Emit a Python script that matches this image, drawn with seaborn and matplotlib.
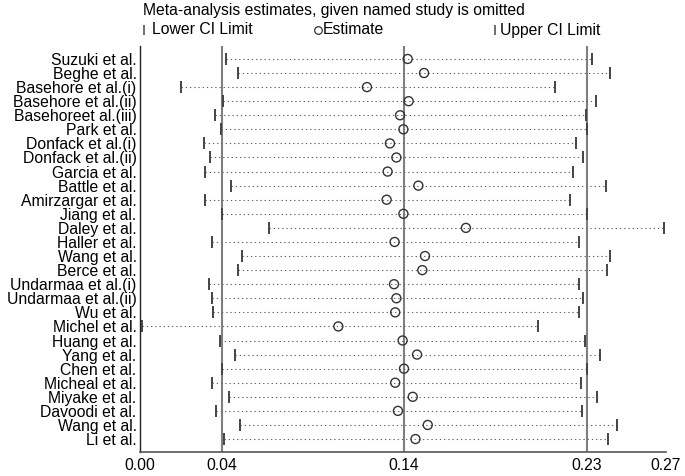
import matplotlib
matplotlib.use("Agg")
import matplotlib.pyplot as plt
import seaborn as sns
import pandas as pd
import numpy as np

studies = ["Suzuki et al.", "Beghe et al.", "Basehore et al.(i)", "Basehore et al.(ii)",
           "Basehoreet al.(iii)", "Park et al.", "Donfack et al.(i)", "Donfack et al.(ii)",
           "Garcia et al.", "Battle et al.", "Amirzargar et al.", "Jiang et al.",
           "Daley et al.", "Haller et al.", "Wang et al.", "Berce et al.",
           "Undarmaa et al.(i)", "Undarmaa et al.(ii)", "Wu et al.", "Michel et al.",
           "Huang et al.", "Yang et al.", "Chen et al.", "Micheal et al.",
           "Miyake et al.", "Davoodi et al.", "Wang et al.", "Li et al."]
estimate = [0.1374, 0.1458, 0.1165, 0.1379, 0.1335, 0.1352, 0.1283, 0.1316,
            0.1271, 0.1429, 0.1266, 0.1352, 0.1673, 0.1307, 0.1463, 0.1449,
            0.1304, 0.1316, 0.1310, 0.1018, 0.1348, 0.1422, 0.1355, 0.1310,
            0.1400, 0.1324, 0.1477, 0.1414]
lower = [0.0440, 0.0503, 0.0209, 0.0426, 0.0387, 0.0416, 0.0327, 0.0358,
         0.0332, 0.0469, 0.0332, 0.0421, 0.0662, 0.0368, 0.0522, 0.0503,
         0.0354, 0.0368, 0.0376, 0.0010, 0.0411, 0.0486, 0.0421, 0.0368,
         0.0455, 0.0389, 0.0512, 0.0433]
upper = [0.2320, 0.2411, 0.2129, 0.2342, 0.2289, 0.2296, 0.2236, 0.2275,
         0.2221, 0.2391, 0.2209, 0.2295, 0.2690, 0.2253, 0.2411, 0.2399,
         0.2253, 0.2274, 0.2253, 0.2041, 0.2286, 0.2363, 0.2296, 0.2262,
         0.2346, 0.2270, 0.2447, 0.2400]
tick_values = [0.0, 0.0419, 0.1355, 0.2294, 0.27]
tick_labels = ["0.00", "0.04", "0.14", "0.23", "0.27"]
ref_lines = [0.0419, 0.1355, 0.2294]

df = pd.DataFrame({"study": studies, "estimate": estimate,
                   "lower": lower, "upper": upper})
df["row"] = np.arange(len(df))

sns.set_style("white")
plt.rcParams["font.family"] = ["Liberation Sans", "DejaVu Sans"]
plt.rcParams["text.color"] = "black"
plt.rcParams["xtick.labelcolor"] = "black"
plt.rcParams["ytick.labelcolor"] = "black"
FS = 11.3

fig = plt.figure(figsize=(6.85, 4.76), dpi=100)
ax = fig.add_axes([140 / 685, 24 / 476, 526 / 685, 406 / 476])

for v in ref_lines:
    ax.axvline(v, color="#7f7f7f", lw=1.5, zorder=1)

ax.hlines(df["row"], df["lower"], df["upper"], colors="#666666",
          linestyles=(0, (1.2, 2.6)), lw=0.8, zorder=2)

sns.scatterplot(data=df, x="lower", y="row", marker="|", s=64, color="#444444",
                linewidth=1.4, ax=ax, zorder=3, clip_on=False)
sns.scatterplot(data=df, x="upper", y="row", marker="|", s=64, color="#444444",
                linewidth=1.4, ax=ax, zorder=3, clip_on=False)
sns.scatterplot(data=df, x="estimate", y="row", marker="o", s=42,
                facecolors="none", edgecolor="#333333", linewidth=1.0,
                ax=ax, zorder=4, clip_on=False)

ax.set_xlim(0, 0.27)
ax.set_ylim(27.92, -0.92)
ax.set_xticks(tick_values)
ax.set_xticklabels(tick_labels, fontsize=FS, color="black")
ax.set_yticks(df["row"])
ax.set_yticklabels(df["study"], fontsize=FS, color="black")
ax.tick_params(axis="y", length=0, pad=2.5)
ax.tick_params(axis="x", length=4, width=1, color="#555555", pad=0.5, direction="out")
ax.set_xlabel("")
ax.set_ylabel("")
for s in ["top", "right"]:
    ax.spines[s].set_visible(False)
ax.spines["left"].set_color("#222222")
ax.spines["left"].set_linewidth(1.0)
ax.spines["bottom"].set_color("#555555")
ax.spines["bottom"].set_linewidth(1.2)

# header and legend
fig.text(143 / 685, 1 - 11 / 476, "Meta-analysis estimates, given named study is omitted",
         fontsize=FS, va="center", ha="left", color="black")
ly = 1 - 30 / 476
ax.plot([143.5 / 685], [ly], marker="|", ms=7, mew=1.2, color="#555555",
        transform=fig.transFigure, clip_on=False)
fig.text(151.5 / 685, ly, "Lower CI Limit", fontsize=FS, va="center", ha="left", color="black")
ax.plot([317.5 / 685], [ly], marker="o", ms=5.5, mfc="none", mec="#333333", mew=0.9,
        transform=fig.transFigure, clip_on=False)
fig.text(323 / 685, ly, "Estimate", fontsize=FS, va="center", ha="left", color="black")
ax.plot([494.5 / 685], [ly], marker="|", ms=7, mew=1.2, color="#555555",
        transform=fig.transFigure, clip_on=False)
fig.text(500.5 / 685, ly, "Upper CI Limit", fontsize=FS, va="center", ha="left", color="black")

fig.savefig("out.png", dpi=100)
